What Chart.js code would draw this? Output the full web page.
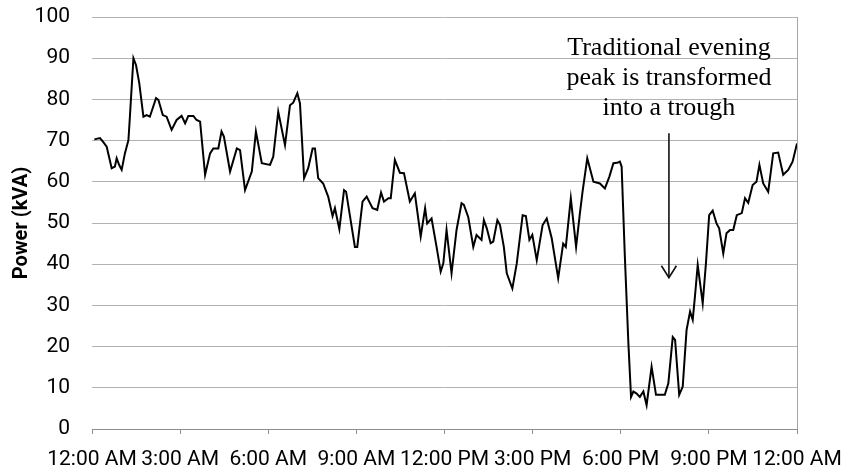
<!DOCTYPE html>
<html>
<head>
<meta charset="utf-8">
<script src="https://cdn.jsdelivr.net/npm/chart.js@4.4.1/dist/chart.umd.min.js"></script>
<style>
  html, body { margin: 0; padding: 0; background: #ffffff; }
  #wrap { width: 844px; height: 469px; position: relative; }
</style>
</head>
<body>
<div id="wrap"><canvas id="c" width="844" height="469"></canvas></div>
<script>
// ---- data (hours since midnight, power in kVA) ----
const hours = [
  0.08, 0.27, 0.38, 0.50, 0.67, 0.78, 0.84, 0.93, 1.01, 1.12, 1.24, 1.29, 1.41, 1.50, 1.61, 1.75, 1.86, 1.97,
  2.18, 2.26, 2.41, 2.54, 2.71, 2.88, 3.05, 3.17, 3.28, 3.45, 3.56, 3.68, 3.85, 4.02, 4.13, 4.30, 4.41, 4.49,
  4.70, 4.93, 5.04, 5.21, 5.44, 5.58, 5.78, 6.06, 6.17, 6.34, 6.57, 6.74, 6.85, 6.99, 7.08, 7.22, 7.36, 7.51,
  7.59, 7.70, 7.87, 8.04, 8.19, 8.27, 8.42, 8.58, 8.65, 8.95, 9.03, 9.21, 9.35, 9.55, 9.71, 9.84, 9.94, 10.09,
  10.17, 10.31, 10.48, 10.62, 10.82, 10.99, 11.19, 11.34, 11.41, 11.56, 11.73, 11.87, 11.96, 12.07, 12.24, 12.41,
  12.58, 12.66, 12.81, 12.98, 13.09, 13.26, 13.34, 13.44, 13.57, 13.66, 13.80, 13.89, 14.02, 14.12, 14.31, 14.46,
  14.66, 14.77, 14.89, 14.99, 15.14, 15.34, 15.48, 15.65, 15.87, 16.04, 16.13, 16.30, 16.48, 16.61, 16.70, 16.86,
  17.07, 17.29, 17.46, 17.61, 17.75, 17.88, 17.97, 18.03, 18.14, 18.26, 18.35, 18.43, 18.54, 18.65, 18.77, 18.88,
  19.05, 19.20, 19.50, 19.62, 19.77, 19.85, 19.99, 20.11, 20.24, 20.36, 20.45, 20.53, 20.62, 20.79, 20.90, 21.01,
  21.13, 21.26, 21.35, 21.49, 21.60, 21.72, 21.83, 21.95, 22.12, 22.23, 22.34, 22.49, 22.62, 22.72, 22.85, 23.02,
  23.19, 23.36, 23.53, 23.70, 23.85, 24.00
];
const power = [
  70.3, 70.6, 69.7, 68.5, 63.3, 63.7, 65.7, 64.0, 62.9, 66.9, 70.1, 75.8, 90.0, 88.3, 83.9, 75.8, 76.2, 75.8,
  80.3, 79.9, 76.2, 75.8, 72.6, 75.0, 76.0, 74.2, 76.0, 76.0, 75.0, 74.6, 61.7, 66.9, 68.1, 68.1, 72.2, 71.0,
  62.5, 68.1, 67.7, 58.0, 62.5, 72.2, 64.5, 64.1, 66.1, 77.0, 68.9, 78.6, 79.2, 81.5, 79.0, 60.9, 63.3, 68.1,
  68.1, 60.9, 59.6, 56.4, 51.7, 53.6, 48.5, 58.0, 57.6, 44.2, 44.2, 55.2, 56.4, 53.6, 53.2, 57.4, 55.2, 56.0,
  56.0, 65.3, 62.2, 62.1, 55.2, 57.2, 46.7, 53.6, 49.9, 51.1, 44.2, 38.2, 40.2, 48.3, 37.8, 48.3,
  54.8, 54.4, 51.4, 44.2, 47.1, 45.9, 50.7, 48.7, 45.1, 45.5, 50.7, 49.5, 44.2, 37.8, 34.1, 40.2,
  51.9, 51.7, 45.9, 47.1, 41.0, 49.5, 51.1, 46.3, 36.6, 45.0, 44.2, 56.0, 44.2, 52.4, 57.6, 65.7,
  60.0, 59.6, 58.4, 61.2, 64.5, 64.6, 64.9, 63.7, 41.8, 20.8, 7.8, 9.1, 8.6, 7.8, 9.1, 5.8,
  15.1, 8.3, 8.3, 11.1, 22.3, 21.6, 8.3, 10.3, 24.0, 28.5, 26.5, 32.5, 39.8, 30.5, 40.2, 51.9,
  53.0, 49.9, 48.7, 42.6, 47.5, 48.3, 48.3, 51.9, 52.4, 56.0, 54.9, 59.2, 60.0, 64.1, 59.6, 57.6,
  66.9, 67.1, 61.7, 62.9, 64.9, 69.3
];
const xTickLabels = ['12:00 AM', '3:00 AM', '6:00 AM', '9:00 AM', '12:00 PM', '3:00 PM', '6:00 PM', '9:00 PM', '12:00 AM'];
const yAxisTitle = 'Power (kVA)';
const annotationLines = ['Traditional evening', 'peak is transformed', 'into a trough'];
const annotationHour = 19.64;          // where the arrow sits on the time axis
const annotationTextValues = [90.8, 83.5, 76.2]; // baselines of the text lines (kVA)
const arrowFromValue = 71.8;
const arrowToValue = 36.7;

const annotationPlugin = {
  id: 'annot',
  afterDraw(chart) {
    const ctx = chart.ctx;
    const xs = chart.scales.x, ys = chart.scales.y;
    const ax = xs.getPixelForValue(annotationHour);
    ctx.save();
    ctx.fillStyle = '#000';
    ctx.font = '26px "Liberation Serif", "Times New Roman", serif';
    ctx.textAlign = 'center';
    ctx.textBaseline = 'alphabetic';
    annotationLines.forEach((t, i) => {
      ctx.fillText(t, ax, ys.getPixelForValue(annotationTextValues[i]));
    });
    const y0 = ys.getPixelForValue(arrowFromValue);
    const y1 = ys.getPixelForValue(arrowToValue);
    ctx.strokeStyle = '#111';
    ctx.lineWidth = 1.6;
    ctx.beginPath();
    ctx.moveTo(ax, y0);
    ctx.lineTo(ax, y1);
    ctx.stroke();
    ctx.beginPath();
    ctx.moveTo(ax - 7.5, y1 - 12);
    ctx.lineTo(ax, y1);
    ctx.lineTo(ax + 7.5, y1 - 12);
    ctx.stroke();
    ctx.restore();
  }
};

new Chart(document.getElementById('c'), {
  type: 'line',
  data: {
    datasets: [{
      data: hours.map((h, i) => ({ x: h, y: power[i] })),
      borderColor: '#000000',
      borderWidth: 2,
      pointRadius: 0,
      tension: 0,
      fill: false
    }]
  },
  options: {
    responsive: false,
    animation: false,
    events: [],
    layout: { padding: { top: 17, right: 47, left: 0, bottom: 0 } },
    plugins: { legend: { display: false }, tooltip: { enabled: false } },
    scales: {
      x: {
        type: 'linear',
        min: 0, max: 24,
        afterFit(s) { s.height = 40; s.paddingLeft = 0; s.paddingRight = 0; },
        afterBuildTicks(s) { s.ticks = xTickLabels.map((_, i) => ({ value: i * 3 })); },
        ticks: {
          autoSkip: false,
          maxRotation: 0,
          padding: 13,
          color: '#000',
          font: { family: 'Roboto', size: 21 },
          callback: (v) => xTickLabels[Math.round(v / 3)]
        },
        grid: {
          drawOnChartArea: true,
          color: (c) => (c.index === xTickLabels.length - 1 ? '#a6a6a6' : 'rgba(0,0,0,0)'),
          tickColor: '#8c8c8c',
          tickLength: 5,
          lineWidth: 1
        },
        border: { display: true, color: '#8c8c8c', width: 1 }
      },
      y: {
        min: 0, max: 100,
        afterFit(s) { s.width = 92; s.paddingTop = 0; s.paddingBottom = 0; },
        ticks: {
          stepSize: 10,
          padding: 22,
          color: '#000',
          font: { family: 'Roboto', size: 21 }
        },
        grid: { color: '#b3b3b3', lineWidth: 1, drawTicks: false },
        border: { display: false },
        title: {
          display: true,
          text: yAxisTitle,
          color: '#000',
          font: { family: 'Roboto', size: 20, weight: 'bold' },
          padding: { top: 10, bottom: 0 }
        }
      }
    }
  },
  plugins: [annotationPlugin]
});
</script>
</body>
</html>
